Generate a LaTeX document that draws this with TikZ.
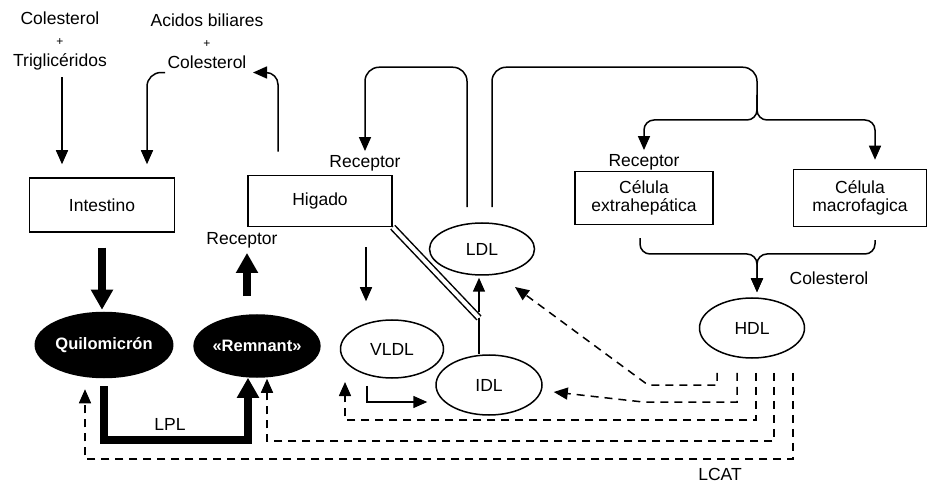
\documentclass[tikz,border=0pt]{standalone}
\usepackage{fontspec}
\setmainfont{Liberation Sans}
\usetikzlibrary{arrows.meta,shapes.geometric,positioning}

\begin{document}
\begin{tikzpicture}[x=1pt,y=-1pt,line width=1.5pt,>={Triangle[length=14pt,width=12pt]},
  every node/.style={font=\fontsize{17.5}{21}\selectfont,align=center},
  box/.style={draw,inner sep=0pt,font=\fontsize{17.5}{18}\selectfont},
  lipo/.style={draw,ellipse,inner sep=0pt},
  oscuro/.style={lipo,fill=black,text=white,font=\fontsize{16.5}{16}\selectfont\bfseries},
  grueso/.style={line width=8.5pt,-{Triangle[length=20pt,width=21pt]}},
  lcat/.style={dash pattern=on 8pt off 6pt,->}]
\useasboundingbox (0,0) rectangle (929,486);

% Entradas
\node (colTri) at (60,41) {Colesterol\\{\fontsize{12}{9}\selectfont +}\\Triglicéridos};
\node (acidCol) at (207,41) {Acidos biliares\\{\fontsize{12}{9}\selectfont +}\\Colesterol};

% Organos y celulas
\node[box,minimum width=145pt,minimum height=54pt] (intestino) at (102,205) {Intestino};
\node[box,minimum width=144pt,minimum height=51pt] (higado) at (320,201) {Higado};
\node[box,minimum width=138pt,minimum height=53pt] (celExt) at (644,198) {Célula\\extrahepática};
\node[box,minimum width=133pt,minimum height=57pt] (celMac) at (860,198) {Célula\\macrofagica};

% Lipoproteinas
\node[oscuro,minimum width=105pt,minimum height=65pt] (quilo) at (104,345) {Quilomicrón};
\node[oscuro,minimum width=103pt,minimum height=62pt] (remnant) at (257,346) {«Remnant»};
\node[lipo,minimum width=105pt,minimum height=52pt] (ldl) at (482,249) {LDL};
\node[lipo,minimum width=103pt,minimum height=58pt] (vldl) at (392,349) {VLDL};
\node[lipo,minimum width=106pt,minimum height=60pt] (idl) at (489,385) {IDL};
\node[lipo,minimum width=105pt,minimum height=60pt] (hdl) at (752,328) {HDL};

% Rotulos
\node (recHig) at (365,163) {Receptor};
\node (recRem) at (242,240) {Receptor};
\node (recExt) at (644,162) {Receptor};
\node (colHdl) at (829,278) {Colesterol};
\node (lpl) at (170,424) {LPL};
\node (lcatLabel) at (720,474) {LCAT};

% Dieta e higado
\draw[->,shorten <=3pt,shorten >=13pt] ([xshift=2pt]colTri.south) -- ([xshift=-40pt]intestino.north);
\draw[->,rounded corners=14pt,shorten >=13pt] ([xshift=-42pt]acidCol.south) -| ([xshift=45pt]intestino.north);
\draw[->,rounded corners=12pt,shorten <=23pt] ([xshift=-42pt]higado.north) |- ([xshift=46pt]acidCol.south);

% LDL hacia los receptores
\draw[->,rounded corners=14pt,shorten <=15pt] ([xshift=-15pt]ldl.north) -- ++(0,-155) -| (recHig.north);
\draw[rounded corners=14pt,shorten <=15pt] ([xshift=10pt]ldl.north) -- ++(0,-155) -| (757,112);
\coordinate (split) at (757,120);
\draw[->,rounded corners=10pt] (757,95) -- (split) -| (recExt.north);
\draw[->,rounded corners=10pt,shorten >=9pt] (757,95) -- (split) -| ([xshift=15pt]celMac.north);

% Celulas hacia HDL
\coordinate (merge) at (757,254);
\draw[->,rounded corners=10pt,shorten <=13pt,shorten >=5pt] ([xshift=-4pt]celExt.south) |- (merge) -- (merge |- hdl.north);
\draw[->,rounded corners=10pt,shorten <=13pt,shorten >=5pt] ([xshift=15pt]celMac.south) |- (merge) -- (merge |- hdl.north);

% Quilomicrones
\draw[grueso,shorten <=15pt,shorten >=2pt] (intestino.south) -- (intestino.south |- quilo.north);
\draw[grueso,shorten <=18pt,shorten >=1pt] ([xshift=-10pt]remnant.north) -- ([xshift=-10pt]remnant.north |- recRem.south);
\coordinate (lplCorner) at (248,440);
\draw[grueso,shorten <=8pt] (quilo.south) |- (lplCorner) -- ([xshift=-9pt]remnant.south);

% Higado, VLDL, IDL, LDL
\draw[->,shorten <=20pt,shorten >=18pt] ([xshift=46pt]higado.south) -- ([xshift=46pt]higado.south |- vldl.north);
\coordinate (kink) at (479,318);
\draw[double,double distance=4pt] (higado.south east) -- (kink);
\draw (kink) -- (kink |- idl.north);
\draw[->,shorten >=2pt] ([yshift=6pt]kink) -- (kink |- ldl.south);
\draw[->,shorten <=7pt] ([xshift=-25pt]vldl.south) |- ([xshift=-8pt,yshift=-17pt]idl.west);

% LCAT
\begin{scope}[lcat]
\draw ([xshift=-35pt,yshift=-14pt]hdl.south) |- (648,385) -- ([xshift=33pt,yshift=-38pt]ldl.center);
\draw ([xshift=-15pt,yshift=-14pt]hdl.south) |- (643,402) -- ([xshift=11pt,yshift=-7pt]idl.east);
\draw ([xshift=4pt,yshift=-14pt]hdl.south) |- (345,420) -- ([xshift=-47pt,yshift=-33pt]vldl.center);
\draw ([xshift=22pt,yshift=-14pt]hdl.south) |- (267,441) -- ([xshift=10pt,yshift=-1pt]remnant.south);
\draw ([xshift=41pt,yshift=-14pt]hdl.south) |- (85,459) -- ([xshift=-19pt,yshift=-11pt]quilo.south);
\end{scope}

\end{tikzpicture}
\end{document}
